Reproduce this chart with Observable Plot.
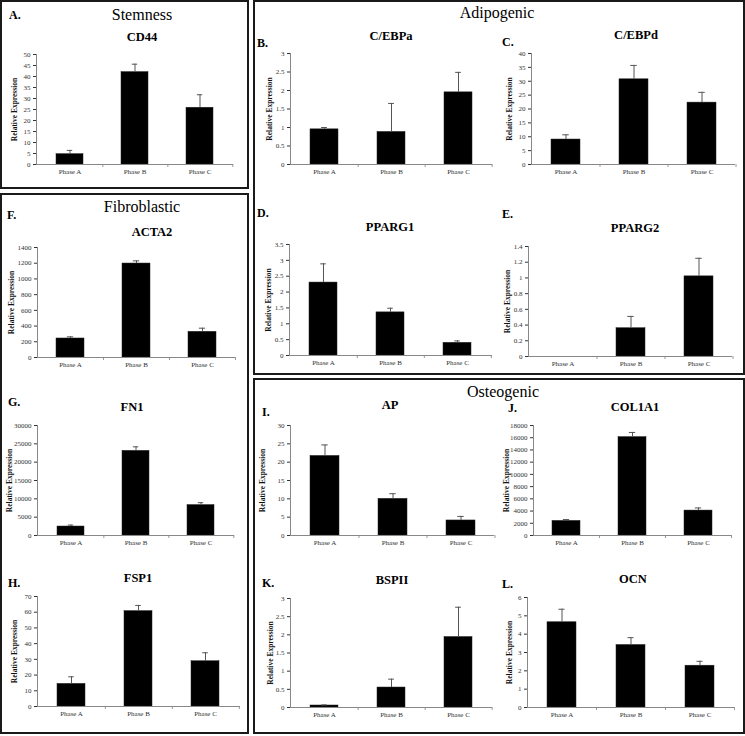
<!DOCTYPE html>
<html><head><meta charset="utf-8">
<script src="https://cdn.jsdelivr.net/npm/d3@7"></script>
<script src="https://cdn.jsdelivr.net/npm/@observablehq/plot@0.6"></script>
<style>
body{margin:0;background:#fff;}
#root{position:relative;width:745px;height:736px;overflow:hidden;font-family:"Liberation Serif","Times New Roman",serif;color:#000;}
.box{position:absolute;border:2px solid #1a1a1a;box-sizing:border-box;}
.sec{position:absolute;white-space:nowrap;transform:translate(-50%,-50%);font-size:16px;}
.ttl{position:absolute;white-space:nowrap;transform:translate(-50%,-50%);font-size:12.5px;font-weight:bold;}
.let{position:absolute;white-space:nowrap;transform:translate(0,-50%);font-size:12px;font-weight:bold;}
.chart{position:absolute;}
</style></head>
<body><div id="root"></div>
<script>
// ---- data ----
const phases = ["Phase A", "Phase B", "Phase C"];
const cd44 = [4.7, 42.0, 25.8];        const cd44Err = [6.4, 45.6, 31.7];
const cebpa = [0.95, 0.88, 1.95];      const cebpaErr = [1.0, 1.65, 2.49];
const cebpd = [9.0, 30.7, 22.3];       const cebpdErr = [10.7, 35.7, 26.0];
const pparg1 = [2.30, 1.36, 0.40];     const pparg1Err = [2.89, 1.49, 0.46];
const pparg2 = [0, 0.36, 1.02];        const pparg2Err = [0, 0.51, 1.25];
const acta2 = [242, 1196, 327];        const acta2Err = [263, 1230, 373];
const fn1 = [2450, 23090, 8300];       const fn1Err = [2850, 24180, 8950];
const fsp1 = [14.4, 60.7, 28.8];       const fsp1Err = [18.9, 64.3, 34.2];
const ap = [21.7, 10.0, 4.1];          const apErr = [24.7, 11.4, 5.2];
const col1a1 = [2390, 16100, 4080];    const col1a1Err = [2610, 16860, 4510];
const bspii = [0.055, 0.55, 1.94];     const bspiiErr = [0.07, 0.78, 2.76];
const ocn = [4.65, 3.41, 2.28];        const ocnErr = [5.36, 3.81, 2.52];

const sections = ["Stemness", "Adipogenic", "Fibroblastic", "Osteogenic"];
const yLabel = "Relative Expression";

// ---- layout ----
const root = document.getElementById("root");
function box(l, t, r, b){ const d=document.createElement("div"); d.className="box";
  Object.assign(d.style,{left:l+"px",top:t+"px",width:(r-l)+"px",height:(b-t)+"px"}); root.appendChild(d); }
function txt(cls, s, x, y){ const d=document.createElement("div"); d.className=cls; d.textContent=s;
  Object.assign(d.style,{left:x+"px",top:y+"px"}); root.appendChild(d); }

box(0,0,249,189); box(0,193,249,734); box(253,0,745,375); box(253,378,745,734);
txt("sec", sections[0], 142, 15);
txt("sec", sections[1], 497, 13);
txt("sec", sections[2], 142, 207);
txt("sec", sections[3], 503, 392);

const panels = [
  {L:"A.", name:"CD44",   v:cd44,   e:cd44Err,   max:50,    step:5,    x0:36,  x1:233, yt:54,  yb:164, tx:142, ty:37,  lx:9,   ly:15,  lo:25},
  {L:"B.", name:"C/EBPa", v:cebpa,  e:cebpaErr,  max:3,     step:0.5,  x0:290, x1:492, yt:53,  yb:164, tx:391, ty:36,  lx:257, ly:43,  lo:24},
  {L:"C.", name:"C/EBPd", v:cebpd,  e:cebpdErr,  max:40,    step:5,    x0:531, x1:735, yt:53,  yb:164, tx:636, ty:35,  lx:502, ly:42,  lo:25},
  {L:"D.", name:"PPARG1", v:pparg1, e:pparg1Err, max:3.5,   step:0.5,  x0:289, x1:492, yt:244, yb:355, tx:390, ty:227, lx:257, ly:213, lo:24},
  {L:"E.", name:"PPARG2", v:pparg2, e:pparg2Err, max:1.4,   step:0.2,  x0:528, x1:732, yt:246, yb:356, tx:635, ty:228, lx:502, ly:214, lo:24},
  {L:"F.", name:"ACTA2",  v:acta2,  e:acta2Err,  max:1400,  step:200,  x0:37,  x1:235, yt:247, yb:357, tx:152, ty:232, lx:7,   ly:215, lo:29},
  {L:"G.", name:"FN1",    v:fn1,    e:fn1Err,    max:30000, step:5000, x0:37,  x1:234, yt:425, yb:535, tx:132, ty:407, lx:8,   ly:402, lo:31},
  {L:"H.", name:"FSP1",   v:fsp1,   e:fsp1Err,   max:70,    step:10,   x0:37,  x1:240, yt:596, yb:706, tx:138, ty:578, lx:8,   ly:583, lo:26},
  {L:"I.", name:"AP",     v:ap,     e:apErr,     max:30,    step:5,    x0:290, x1:494, yt:425, yb:535, tx:390, ty:405, lx:262, ly:412, lo:31},
  {L:"J.", name:"COL1A1", v:col1a1, e:col1a1Err, max:18000, step:2000, x0:533, x1:731, yt:425, yb:535, tx:635, ty:407, lx:508, ly:408, lo:30},
  {L:"K.", name:"BSPII",  v:bspii,  e:bspiiErr,  max:3,     step:0.5,  x0:290, x1:492, yt:598, yb:707, tx:392, ty:580, lx:262, ly:583, lo:23},
  {L:"L.", name:"OCN",    v:ocn,    e:ocnErr,    max:6,     step:1,    x0:527, x1:734, yt:597, yb:707, tx:633, ty:579, lx:502, ly:584, lo:21}
];

const mL = 40, mT = 6, mB = 22, mR = 4, pad = 0.58;
for (const p of panels) {
  txt("ttl", p.name, p.tx, p.ty);
  txt("let", p.L, p.lx, p.ly);
  const data = phases.map((ph, i) => ({phase: ph, v: p.v[i], e: p.e[i]}));
  const bars = data.filter(d => d.v > 0);
  const errs = data.filter(d => d.e > d.v);
  const step = (p.x1 - p.x0) / 3;
  const bw = step * (1 - pad);
  const capIn = Math.max(0, bw / 2 - 3);
  const tickLen = -p.max * 3 / (p.yb - p.yt);
  const svg = Plot.plot({
    width: p.x1 - p.x0 + mL + mR,
    height: p.yb - p.yt + mT + mB,
    marginLeft: mL, marginTop: mT, marginBottom: mB, marginRight: mR,
    style: {fontFamily: "Liberation Serif, serif", fontSize: "7px", color: "#333", background: "transparent", overflow: "visible"},
    x: {domain: phases, paddingInner: pad, paddingOuter: pad / 2, label: null, tickSize: 0, tickPadding: 5},
    y: {domain: [0, p.max], ticks: d3.range(0, p.max + p.step / 2, p.step),
        tickFormat: d => String(+d.toFixed(2)), tickSize: 3, tickPadding: 3,
        label: yLabel, labelAnchor: "center", labelOffset: p.lo},
    marks: [
      Plot.barY(bars, {x: "phase", y: "v", fill: "#000", stroke: "#222", strokeWidth: 0.5}),
      Plot.ruleX(errs, {x: "phase", y1: "v", y2: "e", stroke: "#555", strokeWidth: 1}),
      Plot.tickY(errs, {x: "phase", y: "e", stroke: "#555", strokeWidth: 1, insetLeft: capIn, insetRight: capIn}),
      Plot.ruleX(phases, {x: d => d, dx: step / 2, y1: 0, y2: tickLen, stroke: "#999"}),
      Plot.ruleY([0], {stroke: "#888"}),
      Plot.frame({anchor: "left", stroke: "#888"})
    ]
  });
  svg.classList.add("chart");
  svg.style.left = (p.x0 - mL) + "px";
  svg.style.top = (p.yt - mT) + "px";
  svg.querySelectorAll("text").forEach(t => {
    if (t.textContent.includes(yLabel)) {
      t.textContent = yLabel;
      t.style.fontWeight = "bold"; t.style.fill = "#111"; t.style.fontSize = "7.5px";
    }
  });
  root.appendChild(svg);
}
</script>
</body></html>
